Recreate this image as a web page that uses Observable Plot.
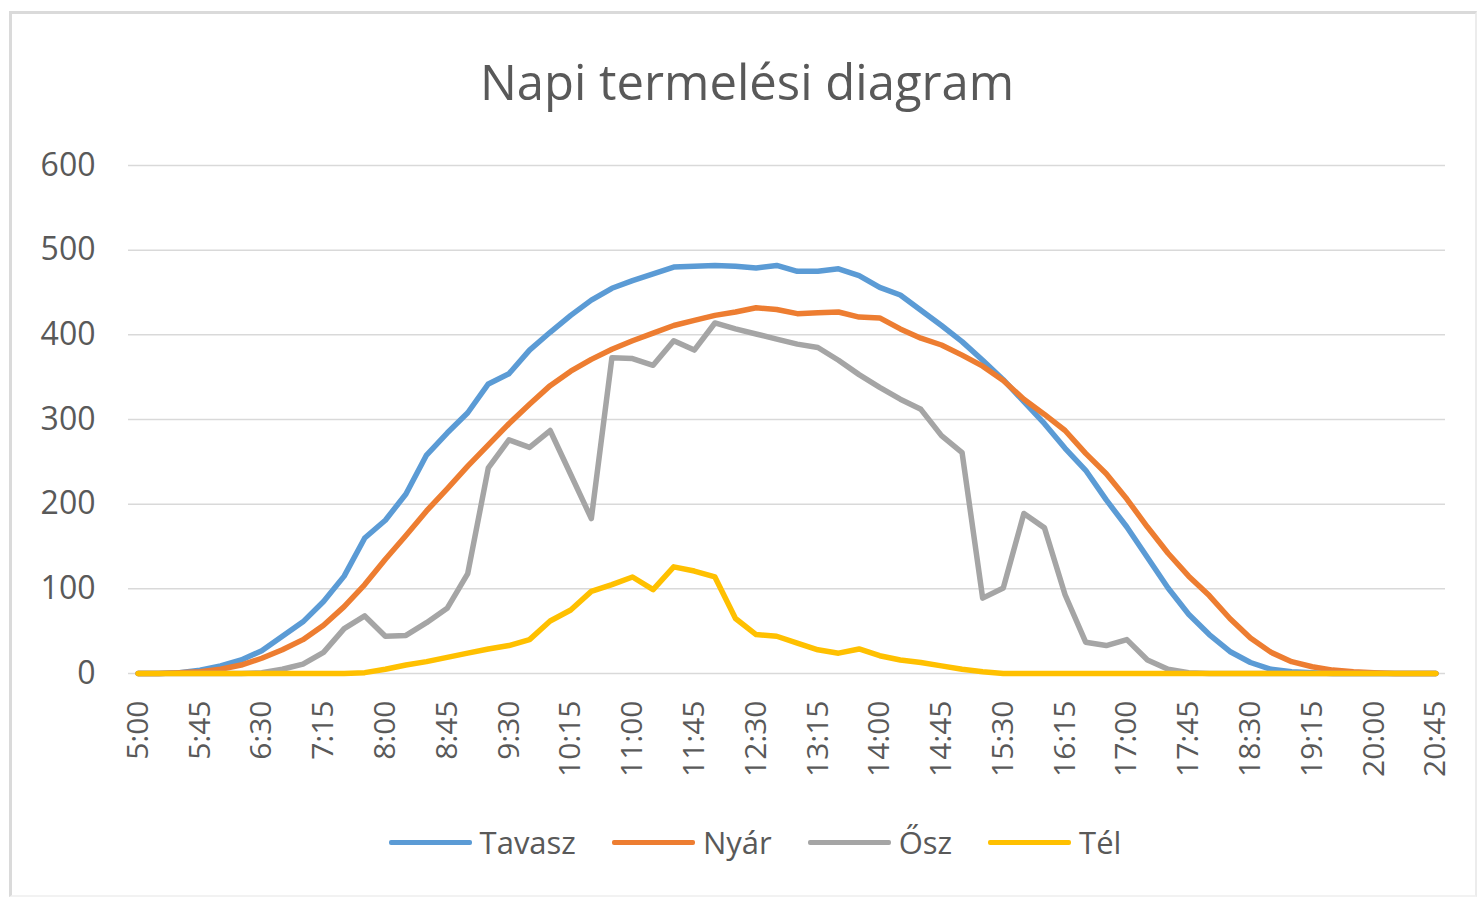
<!DOCTYPE html>
<html>
<head>
<meta charset="utf-8">
<script src="https://cdn.jsdelivr.net/npm/d3@7"></script>
<script src="https://cdn.jsdelivr.net/npm/@observablehq/plot@0.6"></script>
<style>
  html, body { margin: 0; padding: 0; background: #ffffff; }
  body { font-family: "Open Sans", "Noto Sans", sans-serif; }
  #wrap { position: relative; width: 1484px; height: 900px; overflow: hidden; }
  #frame { position: absolute; left: 9px; top: 11px; width: 1468px; height: 886px;
           border-left: 3px solid #dadada; border-top: 3px solid #dadada;
           border-right: 2px solid #ececec; border-bottom: 2px solid #f2f2f2; box-sizing: border-box; }
  #title { position: relative; height: 130px; box-sizing: border-box; padding-top: 50px;
           text-align: center; font-size: 49px; line-height: 62px; color: #595959; padding-left: 10px; }
  #chart { position: relative; height: 660px; }
  #legend { position: relative; height: 110px; display: flex; justify-content: center;
            align-items: flex-start; padding-top: 32px; box-sizing: border-box;
            font-size: 31px; color: #595959; gap: 36px; padding-left: 26px; }
  .item { display: flex; align-items: center; gap: 8px; line-height: 40px; }
  .sw { width: 83px; height: 5px; border-radius: 2px; }
</style>
</head>
<body>
<div id="wrap">
  <div id="frame"></div>
  <div id="title">Napi termelési diagram</div>
  <div id="chart"></div>
  <div id="legend"></div>
</div>
<script>
// Time categories (15-minute steps)
const times = ["5:00","5:15","5:30","5:45","6:00","6:15","6:30","6:45","7:00","7:15","7:30","7:45",
  "8:00","8:15","8:30","8:45","9:00","9:15","9:30","9:45","10:00","10:15","10:30","10:45",
  "11:00","11:15","11:30","11:45","12:00","12:15","12:30","12:45","13:00","13:15","13:30","13:45",
  "14:00","14:15","14:30","14:45","15:00","15:15","15:30","15:45","16:00","16:15","16:30","16:45",
  "17:00","17:15","17:30","17:45","18:00","18:15","18:30","18:45","19:00","19:15","19:30","19:45",
  "20:00","20:15","20:30","20:45"];

const seriesNames = ["Tavasz", "Nyár", "Ősz", "Tél"];
const seriesColors = ["#5B9BD5", "#ED7D31", "#A5A5A5", "#FFC000"];

const tavasz = [0,0,1,4,9,16,27,44,61,85,115,160,
  181,212,258,284,308,342,354,382,403,423,441,455,
  464,472,480,481,482,481,479,482,475,475,478,470,
  456,447,429,411,392,370,347,321,295,266,240,205,
  173,137,101,70,46,26,13,5,2,1,0,0,
  0,0,0,0];

const nyar = [0,0,1,2,5,10,18,28,40,57,79,105,
  135,163,192,218,245,270,295,318,340,357,371,383,
  393,402,411,417,423,427,432,430,425,426,427,421,
  420,407,396,388,376,363,346,324,306,287,260,236,
  206,173,142,115,92,65,42,25,14,8,4,2,
  1,0,0,0];

const osz = [0,0,0,0,0,0,1,5,11,25,53,68,
  44,45,60,77,118,243,276,267,287,235,183,373,
  372,364,393,382,414,407,401,395,389,385,370,353,
  338,324,312,281,261,89,101,189,172,93,37,33,
  40,16,5,1,0,0,0,0,0,0,0,0,
  0,0,0,0];

const tel = [0,0,0,0,0,0,0,0,0,0,0,1,
  5,10,14,19,24,29,33,40,62,75,97,105,
  114,99,126,121,114,65,46,44,36,28,24,29,
  21,16,13,9,5,2,0,0,0,0,0,0,
  0,0,0,0,0,0,0,0,0,0,0,0,
  0,0,0,0];

const yTicks = [0, 100, 200, 300, 400, 500, 600];
const xTicks = times.filter((d, i) => i % 3 === 0);

const allSeries = [tavasz, nyar, osz, tel];
const rows = [];
allSeries.forEach((vals, s) => {
  vals.forEach((v, i) => rows.push({time: times[i], value: v, series: seriesNames[s]}));
});

const chart = Plot.plot({
  width: 1484,
  height: 660,
  marginTop: 35,
  marginBottom: 117,
  marginLeft: 128,
  marginRight: 39,
  style: {fontFamily: "'Open Sans', 'Noto Sans', sans-serif", color: "#595959", background: "transparent", overflow: "visible"},
  x: {type: "point", domain: times, padding: 0.47, label: null},
  y: {domain: [0, 600], label: null},
  color: {domain: seriesNames, range: seriesColors},
  marks: [
    Plot.gridY(yTicks, {stroke: "#d9d9d9", strokeOpacity: 1, strokeWidth: 1.5}),
    Plot.axisY(yTicks, {tickSize: 0, tickPadding: 33, fontSize: 32, label: null}),
    Plot.axisX(xTicks, {tickSize: 0, tickPadding: 27, tickRotate: -90, fontSize: 30, label: null}),
    Plot.line(rows, {x: "time", y: "value", z: "series", stroke: "series",
      strokeWidth: 5.5, strokeLinejoin: "round", strokeLinecap: "round"})
  ]
});
document.getElementById("chart").appendChild(chart);

const legend = document.getElementById("legend");
seriesNames.forEach((name, i) => {
  const item = document.createElement("div");
  item.className = "item";
  const sw = document.createElement("span");
  sw.className = "sw";
  sw.style.background = seriesColors[i];
  const lab = document.createElement("span");
  lab.textContent = name;
  item.appendChild(sw);
  item.appendChild(lab);
  legend.appendChild(item);
});
</script>
</body>
</html>
